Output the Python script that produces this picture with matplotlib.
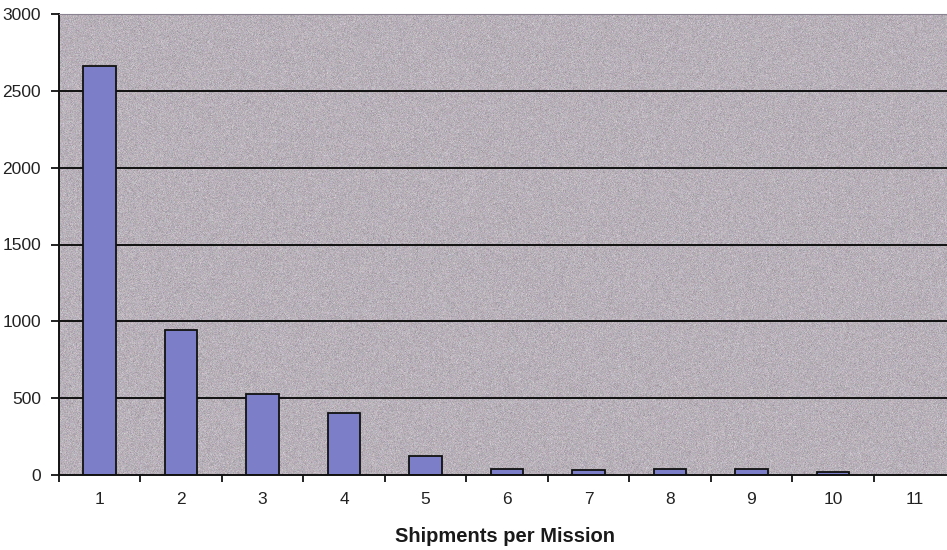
import matplotlib
matplotlib.use("Agg")
import matplotlib.pyplot as plt
import numpy as np
from matplotlib.colors import to_rgb

plt.rcParams["font.family"] = ["Liberation Sans", "DejaVu Sans"]

# shipments per mission -> number of missions
categories = ["1", "2", "3", "4", "5", "6", "7", "8", "9", "10", "11"]
mission_counts = [2660, 941, 526, 406, 122, 42, 33, 42, 41, 22, 0]
y_ticks = [0, 500, 1000, 1500, 2000, 2500, 3000]

BAR_COLOR = "#7c7fc8"
PLOT_BG = "#b8b1b9"

fig = plt.figure(figsize=(9.47, 5.5), dpi=100)
# plot area runs slightly past the right edge of the figure
ax = fig.add_axes([59 / 947, 1 - 475 / 550, 896 / 947, 461 / 550])

x = np.arange(1, len(categories) + 1)

# speckled grey backdrop of the plot area
rng = np.random.default_rng(7)
base = np.array(to_rgb(PLOT_BG))
speckle = rng.normal(0, 0.035, (460, 900, 1)) + rng.normal(0, 0.012, (460, 900, 3))
texture = np.clip(base + speckle, 0, 1)
ax.imshow(texture, extent=(0.5, 11.5, 0, 3000), aspect="auto", zorder=0.5,
          interpolation="nearest")

for y in y_ticks[1:-1]:
    ax.axhline(y, color="#111111", linewidth=1.4, zorder=1)

bars = ax.bar(x, mission_counts, width=0.4, color=BAR_COLOR,
              edgecolor="#111111", linewidth=1.3, zorder=2)

ax.set_xlim(0.5, 11.5)
ax.set_ylim(0, 3000)
ax.set_yticks(y_ticks)
ax.set_yticklabels([str(v) for v in y_ticks])
ax.set_xticks(np.arange(0.5, 12.0, 1.0))
ax.set_xticks(x, minor=True)
ax.set_xticklabels([])
ax.set_xticklabels(categories, minor=True)

ax.tick_params(axis="x", which="major", direction="out", length=5, width=1.3, color="#111111")
ax.tick_params(axis="x", which="minor", length=0, pad=12, labelsize=12.5, labelcolor="#222222")
ax.tick_params(axis="y", direction="out", length=6, width=1.3, color="#111111",
               labelsize=12.5, labelcolor="#222222", pad=7)

for side in ("left", "bottom"):
    ax.spines[side].set_color("#111111")
    ax.spines[side].set_linewidth(1.4)
ax.spines["top"].set_color("#8a8290")
ax.spines["top"].set_linewidth(0.8)
ax.spines["right"].set_visible(False)

fig.text(505 / 947, 1 - 537 / 550, "Shipments per Mission", ha="center", va="center",
         fontsize=14.5, fontweight="bold", color="#1a1a1a")

fig.savefig("out.png", dpi=100)
